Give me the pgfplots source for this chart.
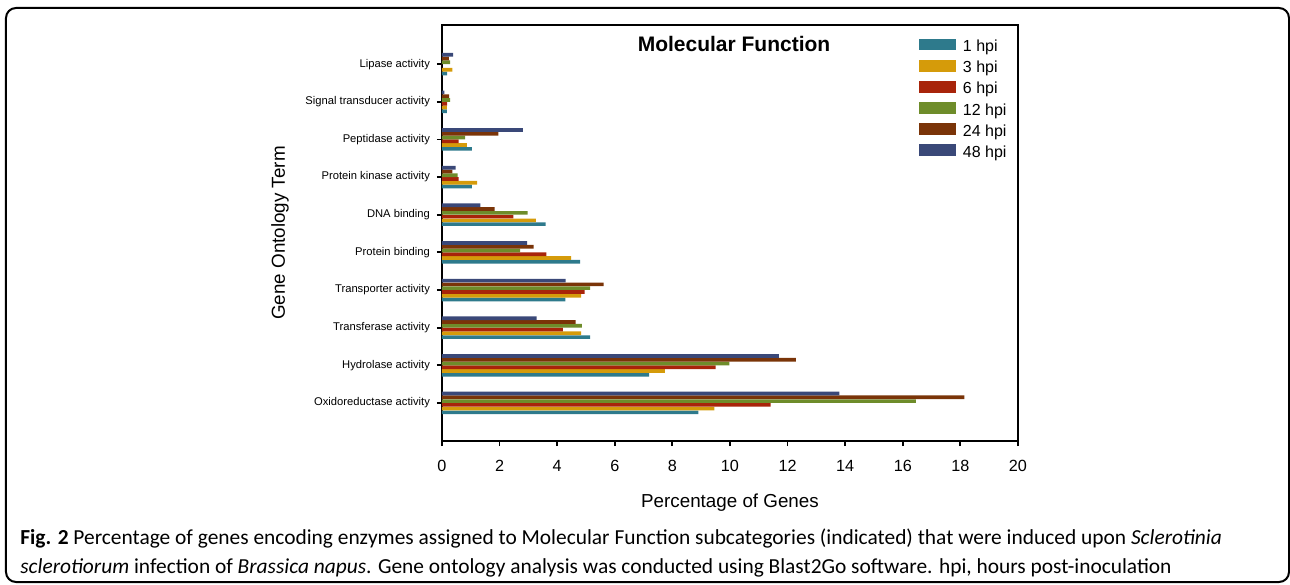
\documentclass[border=0pt]{standalone}
\usepackage{pgfplots}
\pgfplotsset{compat=1.18}
\usepackage{pgfplotstable}
\usepackage{fontspec}
\setmainfont{Liberation Sans}
\newfontfamily\capfont{Carlito}
\definecolor{c1}{RGB}{46,122,140}
\definecolor{c3}{RGB}{213,155,10}
\definecolor{c6}{RGB}{168,36,10}
\definecolor{c12}{RGB}{110,140,42}
\definecolor{c24}{RGB}{122,52,8}
\definecolor{c48}{RGB}{58,72,120}
\pgfplotstableread{
y h1 h3 h6 h12 h24 h48
0 8.90 9.46 11.41 16.45 18.14 13.80
1 7.19 7.74 9.50 9.98 12.29 11.70
2 5.14 4.83 4.20 4.86 4.64 3.29
3 4.28 4.83 4.95 5.14 5.61 4.29
4 4.80 4.48 3.62 2.71 3.18 2.96
5 3.60 3.26 2.48 2.97 1.83 1.33
6 1.04 1.22 0.58 0.54 0.36 0.47
7 1.04 0.86 0.58 0.80 1.96 2.81
8 0.17 0.17 0.18 0.28 0.25 0.08
9 0.18 0.36 0.00 0.28 0.24 0.39
}\data
\begin{document}
\begin{tikzpicture}
\useasboundingbox (-221pt,-71.5pt) rectangle (424pt,220.5pt);
\draw[line width=1pt, rounded corners=5pt] (-218pt,-70.5pt) rectangle (423.5pt,216.5pt);
\begin{axis}[
  at={(0pt,0pt)}, anchor=south west, scale only axis,
  width=288pt, height=208pt,
  xmin=0, xmax=20, ymin=-1.01, ymax=10.04,
  xtick={0,2,...,20}, ytick={0,...,9},
  yticklabels={Oxidoreductase activity, Hydrolase activity, Transferase activity, Transporter activity, Protein binding, DNA binding, Protein kinase activity, Peptidase activity, Signal transducer activity, Lipase activity},
  tick align=outside, major tick length=2.5pt,
  xtick pos=bottom, ytick pos=left,
  axis line style={line width=0.9pt},
  tick style={line width=0.9pt, black},
  /pgf/number format/assume math mode=true,
  xticklabel style={font=\fontsize{8.1}{9}\selectfont, yshift=-3.5pt},
  yticklabel style={font=\fontsize{5.6}{7}\selectfont},
  xlabel={Percentage of Genes}, ylabel={Gene Ontology Term},
  xlabel style={font=\fontsize{9.4}{11}\selectfont, at={(axis description cs:0.5,-0.149)}, anchor=center},
  ylabel style={font=\fontsize{9.4}{11}\selectfont, at={(axis description cs:-0.28125,0.5)}, anchor=center},
  xbar, bar width=0.098,
  every axis plot/.append style={draw=none},
  legend style={draw=none, fill=none, at={(rel axis cs:0.828,0.968)}, anchor=north west,
    font=\fontsize{8}{9}\selectfont, inner sep=0pt, row sep=2.56pt,
    nodes={inner sep=0pt, text height=5.8pt, text depth=1.5pt},
    /tikz/every odd column/.append style={column sep=3.5pt}},
  legend cell align=left,
  legend image code/.code={\fill[#1] (0pt,-1.5pt) rectangle (18.3pt,4.35pt);},
]
\addplot[fill=c1, bar shift=-0.25] table[x=h1,y=y]{\data};
\addplot[fill=c3, bar shift=-0.15] table[x=h3,y=y]{\data};
\addplot[fill=c6, bar shift=-0.05] table[x=h6,y=y]{\data};
\addplot[fill=c12, bar shift=0.05] table[x=h12,y=y]{\data};
\addplot[fill=c24, bar shift=0.15] table[x=h24,y=y]{\data};
\addplot[fill=c48, bar shift=0.25] table[x=h48,y=y]{\data};
\legend{1 hpi, 3 hpi, 6 hpi, 12 hpi, 24 hpi, 48 hpi}
\node[font=\bfseries\fontsize{10.5}{12}\selectfont] at (rel axis cs:0.507,0.954) {Molecular Function};
\end{axis}
\node[anchor=base west, inner sep=0pt, font=\capfont\fontsize{10.7}{12}\selectfont] at (-211pt,-51.5pt) {\textbf{Fig. 2} Percentage of genes encoding enzymes assigned to Molecular Function subcategories (indicated) that were induced upon \textit{Sclerotinia}};
\node[anchor=base west, inner sep=0pt, font=\capfont\fontsize{10.7}{12}\selectfont] at (-211pt,-66pt) {\textit{sclerotiorum} infection of \textit{Brassica napus}. Gene ontology analysis was conducted using Blast2Go software. hpi, hours post-inoculation};
\end{tikzpicture}
\end{document}
